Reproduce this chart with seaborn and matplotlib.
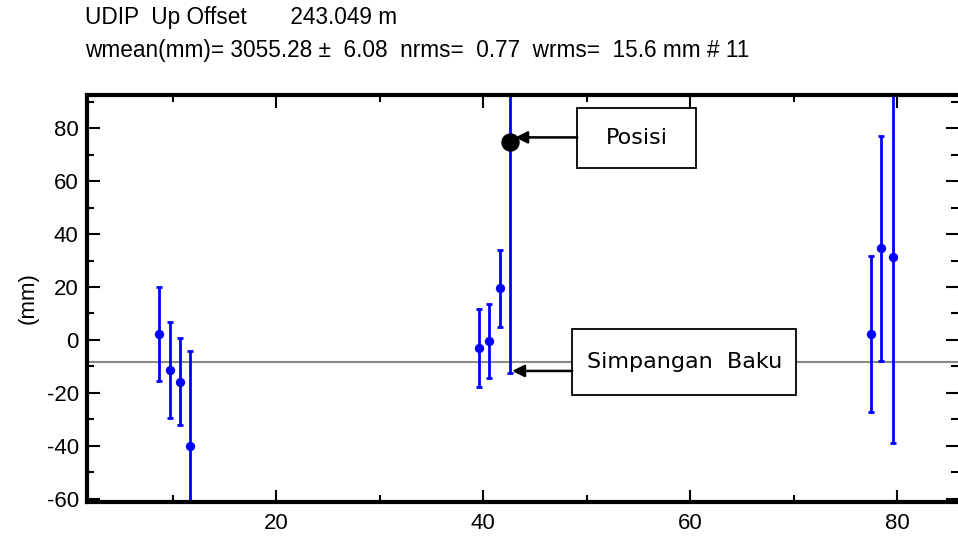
import numpy as np
import pandas as pd
import seaborn as sns
import matplotlib.pyplot as plt
from matplotlib.ticker import MultipleLocator
from matplotlib.patches import Rectangle

# epoch (x) and up offset (mm) with 1-sigma
x_val = [8.7, 9.7, 10.7, 11.7, 39.6, 40.6, 41.6, 42.6, 77.5, 78.5, 79.6]
up_mm = [2.2, -11.3, -15.7, -40.0, -3.1, -0.3, 19.5, 74.8, 2.3, 34.6, 31.2]
sig_mm = [17.8, 18.0, 16.6, 36.0, 14.7, 13.9, 14.5, 87.4, 29.4, 42.5, 70.0]
wmean_line = -8.3
posisi_pt = (42.6, 74.8)

title1 = "UDIP  Up Offset       243.049 m"
title2 = "wmean(mm)= 3055.28 \u00b1  6.08  nrms=  0.77  wrms=  15.6 mm # 11"

df = pd.DataFrame({'x': x_val, 'up': up_mm, 'sig': sig_mm})

sns.set_style('ticks')
plt.rcParams['font.family'] = ['Liberation Sans', 'DejaVu Sans']
plt.rcParams['axes.unicode_minus'] = False
plt.rcParams['text.color'] = 'black'
plt.rcParams['axes.labelcolor'] = 'black'
plt.rcParams['xtick.labelcolor'] = 'black'
plt.rcParams['ytick.labelcolor'] = 'black'

fig = plt.figure(figsize=(9.58, 5.39), dpi=100)
ax = fig.add_axes([0.0908, 0.0686, 0.9092, 0.7551])

ax.axhline(wmean_line, color='#888888', lw=1.5, zorder=1)
ax.errorbar(df['x'], df['up'], yerr=df['sig'], fmt='none', ecolor='blue',
            elinewidth=2, capsize=2, capthick=2, zorder=2)
sns.scatterplot(data=df, x='x', y='up', color='blue', s=45, edgecolor='blue',
                linewidth=0, ax=ax, zorder=3)
ax.scatter([posisi_pt[0]], [posisi_pt[1]], s=150, color='black', zorder=4)

ax.set_xlim(1.7, 85.9)
ax.set_ylim(-61.2, 92.5)
ax.xaxis.set_major_locator(MultipleLocator(20))
ax.xaxis.set_minor_locator(MultipleLocator(10))
ax.yaxis.set_major_locator(MultipleLocator(20))
ax.yaxis.set_minor_locator(MultipleLocator(10))
ax.tick_params(which='both', direction='in', top=True, right=True, color='black')
ax.tick_params(which='major', length=9, width=1.5, labelsize=16, pad=6)
ax.tick_params(axis='x', which='major', pad=8)
ax.tick_params(which='minor', length=5, width=1.5)
for s in ['left', 'bottom', 'top']:
    ax.spines[s].set_linewidth(3)
    ax.spines[s].set_color('black')
ax.spines['right'].set_visible(False)
ax.set_xlabel('')
ax.set_ylabel('(mm)', fontsize=16, labelpad=6)

# annotation boxes and arrows
box_kw = dict(fc='white', ec='black', lw=1.3, zorder=5)
ax.add_patch(Rectangle((49.1, 64.9), 11.45, 22.6, **box_kw))
ax.text(54.85, 76.2, 'Posisi', ha='center', va='center', fontsize=16,
        family='DejaVu Sans', zorder=6)
ax.add_patch(Rectangle((48.6, -20.75), 21.6, 24.9, **box_kw))
ax.text(59.45, -8.3, 'Simpangan  Baku', ha='center', va='center', fontsize=16,
        family='DejaVu Sans', zorder=6)

arrow_kw = dict(arrowstyle='-|>', color='black', lw=1.8, mutation_scale=18,
                shrinkA=0, shrinkB=0)
ax.annotate('', xy=(43.1, 76.5), xytext=(49.1, 76.5), arrowprops=arrow_kw, zorder=6)
ax.annotate('', xy=(42.8, -11.7), xytext=(48.6, -11.7), arrowprops=arrow_kw, zorder=6)

fig.text(0.089, 0.967, title1, fontsize=16.3, va='center', ha='left')
fig.text(0.089, 0.907, title2, fontsize=16.3, va='center', ha='left')

fig.savefig('out.png', dpi=100)
